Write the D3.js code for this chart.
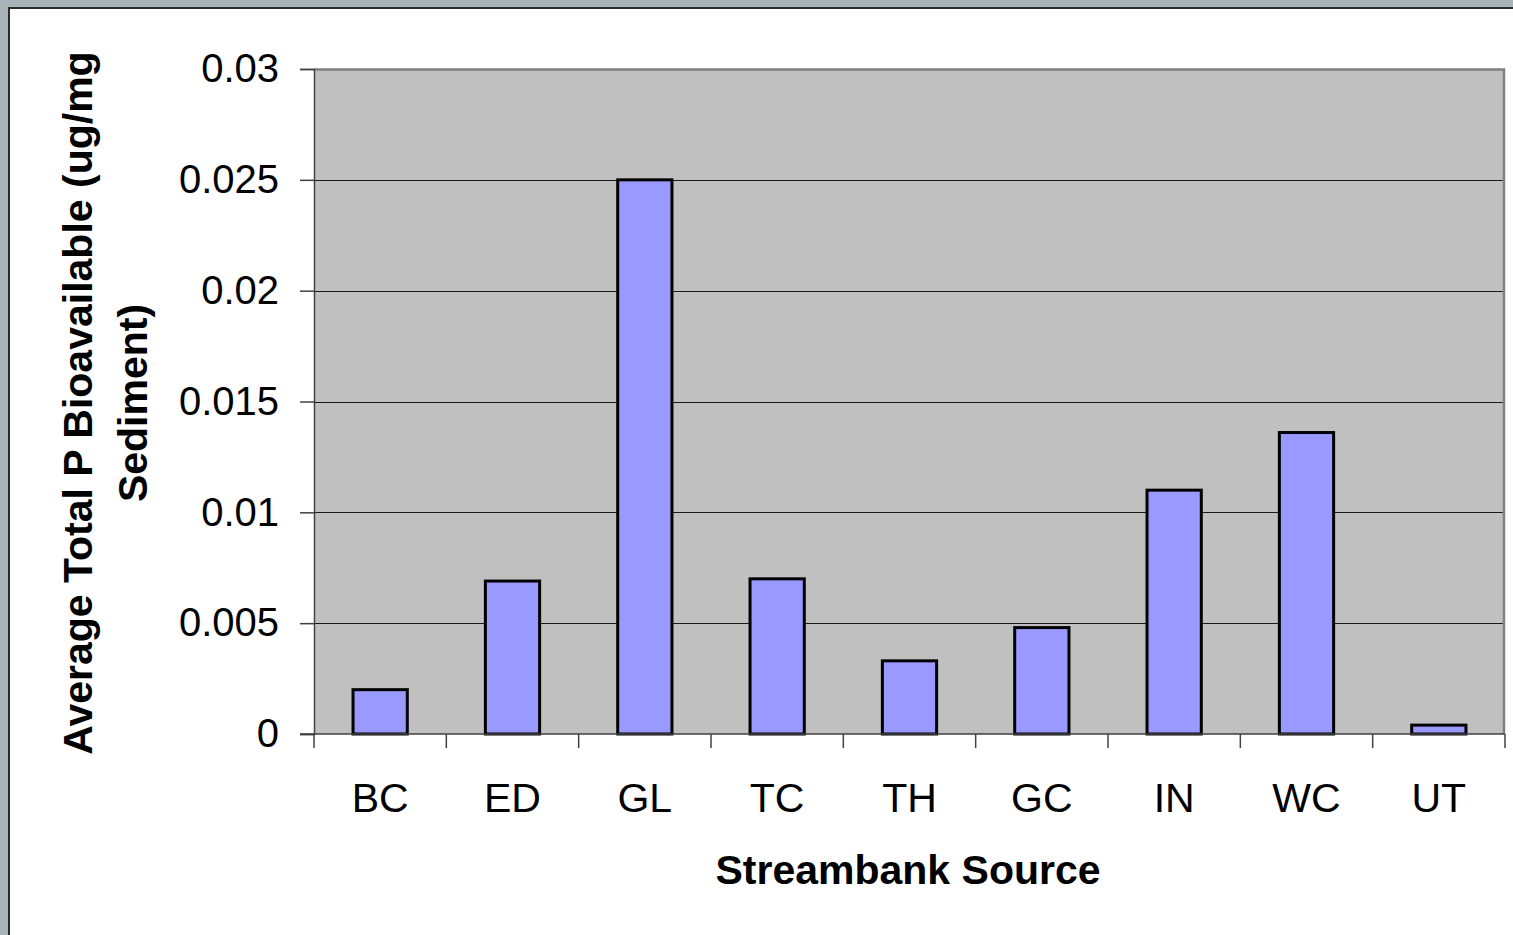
<!DOCTYPE html>
<html>
<head>
<meta charset="utf-8">
<script src="https://cdn.jsdelivr.net/npm/d3@7/dist/d3.min.js"></script>
<style>
  html, body { margin: 0; padding: 0; background: #a8b4ba; }
  svg { display: block; }
</style>
</head>
<body>
<svg id="chart" width="1513" height="935"></svg>
<script>
// Streambank sources and their average bioavailable total P (ug/mg sediment)
const categories = ["BC", "ED", "GL", "TC", "TH", "GC", "IN", "WC", "UT"];
const values = [0.002, 0.0069, 0.025, 0.007, 0.0033, 0.0048, 0.011, 0.0136, 0.0004];
const yTicks = [0, 0.005, 0.01, 0.015, 0.02, 0.025, 0.03];
const yTickLabels = ["0", "0.005", "0.01", "0.015", "0.02", "0.025", "0.03"];

const svg = d3.select("#chart");
const W = 1513, H = 935;
const FONT = "Liberation Sans, Arial, sans-serif";

// outer frame
svg.append("rect").attr("x", 0).attr("y", 0).attr("width", W).attr("height", H).attr("fill", "#a8b4ba");
svg.append("rect").attr("x", 9).attr("y", 8).attr("width", W).attr("height", H)
  .attr("fill", "#ffffff").attr("stroke", "#2b2b2b").attr("stroke-width", 2);

const plot = { left: 314, top: 69, right: 1505, bottom: 734 };

const x = d3.scaleBand().domain(categories).range([plot.left, plot.right])
  .paddingInner(0.59).paddingOuter(0.295);
const y = d3.scaleLinear().domain([0, 0.03]).range([plot.bottom, plot.top]);

// plot background
svg.append("rect")
  .attr("x", plot.left).attr("y", plot.top)
  .attr("width", plot.right - plot.left).attr("height", plot.bottom - plot.top)
  .attr("fill", "#c0c0c0");

// gridlines
svg.append("g").selectAll("line").data(yTicks.filter(d => d > 0 && d < 0.03)).join("line")
  .attr("x1", plot.left).attr("x2", plot.right)
  .attr("y1", d => Math.round(y(d)) + 0.5).attr("y2", d => Math.round(y(d)) + 0.5)
  .attr("stroke", "#1a1a1a").attr("stroke-width", 1);

// plot border (top and right)
svg.append("path")
  .attr("d", `M${plot.left},${plot.top + 0.5}H${plot.right - 1}V${plot.bottom}`)
  .attr("fill", "none").attr("stroke", "#808080").attr("stroke-width", 2.5);

// bars
svg.append("g").selectAll("rect").data(values).join("rect")
  .attr("x", (d, i) => x(categories[i]))
  .attr("y", d => y(d))
  .attr("width", x.bandwidth())
  .attr("height", d => y(0) - y(d))
  .attr("fill", "#9999ff")
  .attr("stroke", "#000000")
  .attr("stroke-width", 3);

// y axis
const yAxis = d3.axisLeft(y).tickValues(yTicks)
  .tickFormat((d, i) => yTickLabels[i]).tickSize(14).tickPadding(21);
const gy = svg.append("g").attr("transform", `translate(${plot.left},0)`).call(yAxis);
gy.select(".domain").attr("stroke", "#404040").attr("stroke-width", 1.5);
gy.selectAll(".tick line").attr("stroke", "#404040").attr("stroke-width", 1.5);
gy.selectAll("text").attr("font-family", FONT)
  .attr("font-size", 40).attr("fill", "#000");

// x axis with ticks on category boundaries
const gx = svg.append("g").attr("transform", `translate(0,${plot.bottom})`);
gx.append("line").attr("x1", plot.left - 14).attr("x2", plot.right)
  .attr("y1", 0).attr("y2", 0).attr("stroke", "#404040").attr("stroke-width", 1.5);
const boundaries = d3.range(categories.length + 1).map(i => plot.left + i * (plot.right - plot.left) / categories.length);
gx.selectAll("line.tk").data(boundaries).join("line").attr("class", "tk")
  .attr("x1", d => d).attr("x2", d => d).attr("y1", 0).attr("y2", 14)
  .attr("stroke", "#404040").attr("stroke-width", 1.5);
gx.selectAll("text").data(categories).join("text")
  .attr("x", d => x(d) + x.bandwidth() / 2)
  .attr("y", 78)
  .attr("text-anchor", "middle")
  .attr("font-family", FONT)
  .attr("font-size", 41).attr("fill", "#000")
  .text(d => d);

// axis titles
svg.append("text")
  .attr("x", 908).attr("y", 884)
  .attr("text-anchor", "middle")
  .attr("font-family", FONT)
  .attr("font-weight", "bold").attr("font-size", 41)
  .text("Streambank Source");

const yTitle = svg.append("text")
  .attr("transform", "translate(0,403) rotate(-90)")
  .attr("text-anchor", "middle")
  .attr("font-family", FONT)
  .attr("font-weight", "bold").attr("font-size", 41);
yTitle.append("tspan").attr("x", 0).attr("y", 92).text("Average Total P Bioavailable (ug/mg");
yTitle.append("tspan").attr("x", 0).attr("y", 147).text("Sediment)");
</script>
</body>
</html>
